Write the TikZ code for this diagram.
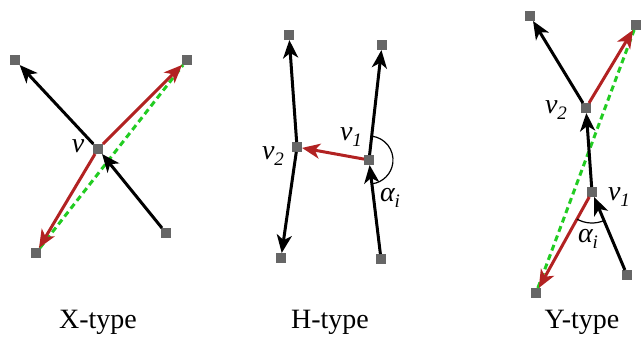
\documentclass[tikz,border=0pt]{standalone}
\usepackage{fontspec}
\setmainfont{Liberation Serif}
\usetikzlibrary{arrows.meta}
\definecolor{sqgray}{HTML}{666666}
\definecolor{redarr}{HTML}{B22222}
\definecolor{greendash}{HTML}{22CC22}
\tikzset{
  vpt/.style={rectangle,fill=sqgray,minimum size=10pt,inner sep=0pt,outer sep=0pt},
  blkarrow/.style={line width=3pt,black,-{Stealth[length=18pt,width=15pt,inset=5pt]}},
  redarrow/.style={line width=3pt,redarr,-{Stealth[length=18pt,width=15pt,inset=5pt]}},
  grnline/.style={line width=3pt,greendash,dash pattern=on 6pt off 4pt},
  lbltxt/.style={font=\fontsize{28}{30}\selectfont\itshape,inner sep=0pt},
  captxt/.style={font=\fontsize{28}{30}\selectfont,inner sep=0pt,anchor=base},
  angarc/.style={line width=1.2pt,black}
}
\newcommand{\sbs}[1]{\raisebox{-6pt}{\fontsize{19}{20}\selectfont\itshape #1}}
\begin{document}
\begin{tikzpicture}[x=1pt,y=-1pt]
\useasboundingbox (0,0) rectangle (641,338);
% X-type
\node[vpt] (xtl) at (15,60) {};
\node[vpt] (xtr) at (187,60) {};
\node[vpt] (xc) at (98,149) {};
\node[vpt] (xbr) at (166,233) {};
\node[vpt] (xbl) at (36,253) {};
\draw[grnline] (xbl) -- (xtr);
\draw[blkarrow] (xc) -- (xtl);
\draw[blkarrow] (xbr) -- (xc);
\draw[redarrow] (xc) -- (xtr);
\draw[redarrow] (xc) -- (xbl);
\node[lbltxt] (xv) at (78,146) {v};
\node[captxt] (xcap) at (98,328) {X-type};
% H-type
\node[vpt] (htl) at (289,35) {};
\node[vpt] (hv2) at (297,147) {};
\node[vpt] (hbl) at (281,258) {};
\node[vpt] (htr) at (382,45) {};
\node[vpt] (hv1) at (369,160) {};
\node[vpt] (hbr) at (381,259) {};
\draw[blkarrow] (hv2) -- (htl);
\draw[blkarrow] (hv2) -- (hbl);
\draw[blkarrow] (hv1) -- (htr);
\draw[blkarrow] (hbr) -- (hv1);
\draw[redarrow] (hv1) -- (hv2);
\draw[angarc] (hv1) ++(-83.5:24) arc[start angle=-83.5,end angle=83,radius=24];
\node[lbltxt] (hv1l) at (351,137) {v\sbs{1}};
\node[lbltxt] (hv2l) at (273,156) {v\sbs{2}};
\node[lbltxt] (hal) at (390,198) {α\sbs{i}};
\node[captxt] (hcap) at (330,328) {H-type};
% Y-type
\node[vpt] (ytl) at (530,16) {};
\node[vpt] (ytr) at (636,25) {};
\node[vpt] (yv2) at (586,108) {};
\node[vpt] (yv1) at (592,192) {};
\node[vpt] (ybr) at (627,275) {};
\node[vpt] (ybl) at (536,293) {};
\draw[grnline] (ybl) -- (ytr);
\draw[blkarrow] (yv2) -- (ytl);
\draw[redarrow] (yv2) -- (ytr);
\draw[blkarrow] (yv1) -- (yv2);
\draw[blkarrow] (ybr) -- (yv1);
\draw[redarrow] (yv1) -- (ybl);
\draw[angarc] (yv1) ++(119:31) arc[start angle=119,end angle=67,radius=31];
\node[lbltxt] (yv2l) at (556,110) {v\sbs{2}};
\node[lbltxt] (yv1l) at (619,197) {v\sbs{1}};
\node[lbltxt] (yal) at (588,239) {α\sbs{i}};
\node[captxt] (ycap) at (582,328) {Y-type};
\end{tikzpicture}
\end{document}
